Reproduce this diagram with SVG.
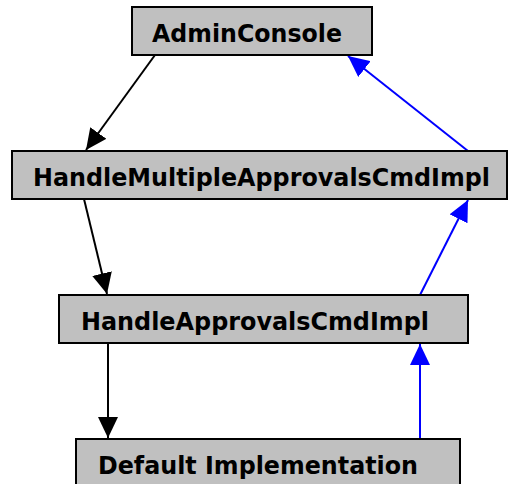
<svg xmlns="http://www.w3.org/2000/svg" width="508" height="484" viewBox="0 0 508 484">
<style>
.box{fill:#c0c0c0;stroke:#000;stroke-width:2}
.lbl{font-family:"DejaVu Sans",Verdana,sans-serif;font-weight:bold;font-size:24px;fill:#000}
.blk{stroke:#000;stroke-width:2;fill:none}
.blu{stroke:#0000ff;stroke-width:2;fill:none}
</style>
<defs>
<marker id="ab" markerUnits="userSpaceOnUse" markerWidth="22" markerHeight="20" refX="21" refY="10" orient="auto" viewBox="0 0 22 20"><path d="M0,0 L21,10 L0,20 z" fill="#000"/></marker>
<marker id="au" markerUnits="userSpaceOnUse" markerWidth="22" markerHeight="20" refX="21" refY="10" orient="auto" viewBox="0 0 22 20"><path d="M0,0 L21,10 L0,20 z" fill="#0000ff"/></marker>
</defs>
<rect width="508" height="484" fill="#fff"/>
<g id="connectors">
<line class="blk" x1="155" y1="55" x2="86" y2="150" marker-end="url(#ab)"/>
<line class="blk" x1="84" y1="199" x2="107" y2="294" marker-end="url(#ab)"/>
<line class="blk" x1="108" y1="343" x2="108" y2="438" marker-end="url(#ab)"/>
<line class="blu" x1="468" y1="151" x2="348" y2="56" marker-end="url(#au)"/>
<line class="blu" x1="420" y1="295" x2="468" y2="200" marker-end="url(#au)"/>
<line class="blu" x1="420" y1="439" x2="420" y2="344" marker-end="url(#au)"/>
</g>
<g id="AdminConsole"><rect class="box" x="132" y="7" width="240" height="48"/><text class="lbl" x="152" y="42" textLength="190" lengthAdjust="spacingAndGlyphs">AdminConsole</text></g>
<g id="HandleMultipleApprovalsCmdImpl"><rect class="box" x="12" y="151" width="495" height="48"/><text class="lbl" x="33" y="186" textLength="457" lengthAdjust="spacingAndGlyphs">HandleMultipleApprovalsCmdImpl</text></g>
<g id="HandleApprovalsCmdImpl"><rect class="box" x="59" y="295" width="409" height="48"/><text class="lbl" x="81" y="330" textLength="348" lengthAdjust="spacingAndGlyphs">HandleApprovalsCmdImpl</text></g>
<g id="DefaultImplementation"><rect class="box" x="76" y="439" width="384" height="50"/><text class="lbl" x="98" y="474" textLength="320" lengthAdjust="spacingAndGlyphs">Default Implementation</text></g>
</svg>
